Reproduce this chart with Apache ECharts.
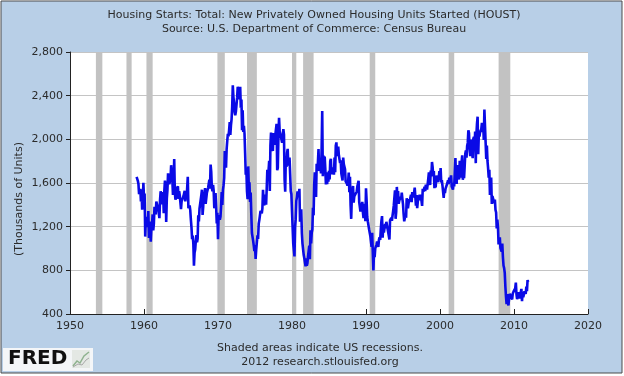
<!DOCTYPE html>
<html>
<head>
<meta charset="utf-8">
<script src="https://cdn.jsdelivr.net/npm/echarts@6/dist/echarts.min.js"></script>
<style>
  html, body { margin: 0; padding: 0; background: #ffffff; }
  #chart { width: 624px; height: 376px; }
</style>
</head>
<body>
<div id="chart"></div>
<script>
// monthly housing starts, thousands of units, starting Jan 1959
const startYear = 1959
const starts1950s = [1657, 1667, 1620, 1590, 1498, 1503, 1547, 1430, 1540, 1355, 1416, 1601]
const starts1960s = [
  1460, 1503, 1109, 1289, 1271, 1247, 1197, 1344, 1097, 1246, 1246, 1063,
  1183, 1226, 1312, 1166, 1228, 1382, 1335, 1312, 1429, 1415, 1385, 1365,
  1361, 1278, 1443, 1524, 1483, 1404, 1450, 1517, 1324, 1533, 1622, 1564,
  1244, 1456, 1534, 1689, 1641, 1588, 1614, 1639, 1763, 1779, 1622, 1491,
  1603, 1820, 1517, 1448, 1467, 1550, 1562, 1569, 1455, 1524, 1486, 1484,
  1361, 1433, 1423, 1438, 1478, 1488, 1529, 1432, 1482, 1452, 1460, 1656,
  1370, 1378, 1394, 1352, 1265, 1194, 1086, 1119, 1046, 843, 961, 990,
  1067, 1123, 1056, 1091, 1304, 1248, 1364, 1407, 1421, 1491, 1538, 1308,
  1380, 1520, 1466, 1554, 1408, 1405, 1512, 1495, 1556, 1569, 1630, 1548,
  1769, 1705, 1561, 1524, 1583, 1528, 1368, 1358, 1507, 1381, 1229, 1327
]
const starts1970s = [
  1085, 1305, 1319, 1264, 1290, 1385, 1517, 1399, 1534, 1580, 1647, 1893,
  1828, 1741, 1910, 1986, 2049, 2026, 2083, 2158, 2041, 2128, 2182, 2295,
  2494, 2390, 2334, 2249, 2221, 2254, 2252, 2382, 2481, 2485, 2421, 2366,
  2481, 2289, 2365, 2084, 2266, 2067, 2123, 2051, 1874, 1677, 1724, 1526,
  1451, 1752, 1555, 1607, 1426, 1513, 1316, 1142, 1150, 1070, 1026, 975,
  1032, 904, 993, 1005, 1121, 1087, 1226, 1260, 1264, 1344, 1360, 1321,
  1367, 1538, 1421, 1395, 1459, 1495, 1401, 1550, 1720, 1629, 1641, 1804,
  1527, 1943, 2063, 1892, 1971, 1893, 2058, 2020, 1949, 2042, 2042, 2142,
  1718, 1738, 2032, 2197, 2075, 2070, 2092, 1996, 1970, 1981, 2094, 2044,
  1630, 1520, 1847, 1748, 1876, 1913, 1760, 1778, 1832, 1681, 1524, 1498
]
const starts1980s = [
  1341, 1350, 1047, 1051, 927, 1196, 1269, 1436, 1471, 1523, 1510, 1482,
  1547, 1246, 1306, 1360, 1140, 1045, 1041, 940, 911, 873, 837, 910,
  843, 866, 931, 917, 1025, 902, 1166, 1046, 1144, 1173, 1372, 1303,
  1586, 1699, 1606, 1472, 1776, 1733, 1785, 1910, 1710, 1715, 1785, 1688,
  1897, 2260, 1663, 1851, 1774, 1843, 1732, 1586, 1698, 1590, 1689, 1612,
  1711, 1632, 1800, 1821, 1680, 1676, 1684, 1743, 1676, 1834, 1698, 1942,
  1972, 1848, 1876, 1933, 1854, 1847, 1782, 1807, 1687, 1681, 1623, 1833,
  1774, 1784, 1726, 1614, 1628, 1594, 1575, 1605, 1695, 1515, 1656, 1400,
  1271, 1473, 1532, 1573, 1421, 1478, 1467, 1493, 1492, 1522, 1569, 1563,
  1621, 1425, 1422, 1339, 1331, 1397, 1427, 1332, 1279, 1410, 1351, 1251
]
const starts1990s = [
  1551, 1437, 1289, 1248, 1212, 1177, 1171, 1115, 1110, 1014, 1145, 969,
  798, 965, 921, 1001, 996, 1036, 1063, 1049, 1015, 1079, 1103, 1079,
  1176, 1250, 1297, 1099, 1214, 1145, 1139, 1226, 1186, 1244, 1214, 1227,
  1210, 1210, 1083, 1258, 1260, 1280, 1254, 1300, 1343, 1392, 1376, 1533,
  1272, 1337, 1564, 1465, 1526, 1409, 1439, 1450, 1474, 1450, 1511, 1455,
  1407, 1316, 1249, 1267, 1314, 1281, 1461, 1416, 1369, 1369, 1452, 1431,
  1467, 1491, 1424, 1516, 1504, 1467, 1472, 1557, 1475, 1392, 1489, 1370,
  1355, 1486, 1457, 1492, 1442, 1494, 1437, 1390, 1546, 1520, 1510, 1566,
  1525, 1584, 1567, 1540, 1536, 1641, 1698, 1614, 1582, 1715, 1660, 1792,
  1748, 1670, 1710, 1553, 1611, 1559, 1669, 1648, 1635, 1608, 1648, 1708
]
const starts2000s = [
  1636, 1737, 1604, 1626, 1575, 1559, 1463, 1541, 1507, 1549, 1551, 1532,
  1600, 1625, 1590, 1649, 1605, 1636, 1670, 1567, 1562, 1540, 1602, 1568,
  1698, 1829, 1642, 1592, 1764, 1717, 1655, 1633, 1804, 1648, 1753, 1788,
  1853, 1629, 1726, 1643, 1751, 1867, 1897, 1833, 1939, 1967, 2083, 2057,
  1911, 1846, 1998, 2003, 1981, 1828, 2002, 2024, 1905, 2072, 1782, 2042,
  2144, 2207, 1864, 2061, 2025, 2068, 2054, 2095, 2151, 2065, 2147, 1994,
  2273, 2119, 1969, 1821, 1942, 1802, 1737, 1650, 1720, 1491, 1570, 1649,
  1409, 1480, 1495, 1490, 1415, 1448, 1354, 1330, 1183, 1264, 1197, 1037,
  1084, 1103, 1005, 1013, 973, 1046, 923, 844, 820, 777, 652, 560,
  490, 582, 505, 478, 540, 585, 594, 586, 585, 534, 588, 581
]
const starts2010s = [
  614, 604, 636, 687, 583, 536, 546, 599, 594, 543, 545, 539,
  630, 517, 600, 554, 561, 608, 623, 585, 650, 610, 711, 694
]

// US recessions (decimal years, peak to trough)
const recessions = [
  [1953.5, 1954.37], [1957.63, 1958.33], [1960.33, 1961.17],
  [1969.92, 1970.92], [1973.92, 1975.25], [1980.0, 1980.58],
  [1981.5, 1982.92], [1990.5, 1991.25], [2001.17, 2001.92],
  [2007.92, 2009.5]
]

const yTicks = [400, 800, 1200, 1600, 2000, 2400, 2800]
const xTicks = [1950, 1960, 1970, 1980, 1990, 2000, 2010, 2020]

const monthly = [].concat(starts1950s, starts1960s, starts1970s, starts1980s,
  starts1990s, starts2000s, starts2010s)
const seriesData = monthly.map((v, i) => [startYear + i / 12, v])

const font = 'DejaVu Sans, Verdana, sans-serif'
const textColor = '#2b2b2b'

let myChart = echarts.init(document.getElementById('chart'))
let option = {
  animation: false,
  backgroundColor: '#ffffff',
  graphic: [
    {
      type: 'rect', z: -10, silent: true,
      shape: { x: 1, y: 1, width: 621, height: 372 },
      style: { fill: '#b8cfe7', stroke: '#4a4a4a', lineWidth: 1 }
    },
    {
      type: 'text', x: 314, y: 8,
      style: {
        text: 'Housing Starts: Total: New Privately Owned Housing Units Started (HOUST)\nSource: U.S. Department of Commerce: Census Bureau',
        fontFamily: font, fontSize: 11, lineHeight: 14, fill: textColor, align: 'center'
      }
    },
    {
      type: 'text', x: 320, y: 341,
      style: {
        text: 'Shaded areas indicate US recessions.\n2012 research.stlouisfed.org',
        fontFamily: font, fontSize: 11, lineHeight: 14, fill: textColor, align: 'center'
      }
    },
    {
      type: 'text', x: 19, y: 199, rotation: Math.PI / 2, originX: 0, originY: 0,
      style: {
        text: '(Thousands of Units)',
        fontFamily: font, fontSize: 11, fill: textColor,
        align: 'center', verticalAlign: 'middle'
      }
    },
    // FRED logo
    {
      type: 'rect', silent: true,
      shape: { x: 3, y: 348, width: 90, height: 23 },
      style: { fill: '#f4f6f8' }
    },
    {
      type: 'text', x: 8, y: 359,
      style: {
        text: 'FRED', fontFamily: 'DejaVu Sans', fontWeight: 'bold', fontSize: 20,
        fill: '#111', verticalAlign: 'middle'
      }
    },
    {
      type: 'rect', silent: true,
      shape: { x: 72, y: 350, width: 18, height: 18 },
      style: { fill: '#e4e8e4' }
    },
    {
      type: 'polyline', silent: true,
      shape: { points: [[73, 366], [77, 361], [80, 363], [84, 356], [89, 352]] },
      style: { stroke: '#8fb28f', lineWidth: 1.5, fill: null }
    },
    {
      type: 'polyline', silent: true,
      shape: { points: [[73, 367], [78, 364], [82, 365], [86, 360], [89, 358]] },
      style: { stroke: '#a8a8a8', lineWidth: 1, fill: null }
    }
  ],
  grid: {
    left: 70,
    right: 36,
    top: 52,
    bottom: 62,
    containLabel: false,
    show: true,
    backgroundColor: '#ffffff',
    borderWidth: 0
  },
  xAxis: {
    type: 'value',
    min: xTicks[0],
    max: xTicks[xTicks.length - 1],
    interval: 10,
    axisLine: { show: true, lineStyle: { color: '#222', width: 1 } },
    axisTick: { show: true, inside: true, length: 5, lineStyle: { color: '#222' } },
    axisLabel: {
      margin: 7, color: textColor, fontFamily: font, fontSize: 11,
      formatter: v => String(v)
    },
    splitLine: { show: false }
  },
  yAxis: {
    type: 'value',
    min: yTicks[0],
    max: yTicks[yTicks.length - 1],
    interval: 400,
    axisLine: { show: true, lineStyle: { color: '#222', width: 1 } },
    axisTick: { show: true, length: 4, lineStyle: { color: '#222' } },
    axisLabel: {
      margin: 7, color: textColor, fontFamily: font, fontSize: 11,
      formatter: v => v.toLocaleString('en-US')
    },
    splitLine: { show: true, lineStyle: { color: '#c4c4c4', width: 1 } }
  },
  series: [
    {
      name: 'HOUST',
      type: 'line',
      data: seriesData,
      showSymbol: false,
      lineStyle: { color: '#0a0ae6', width: 2.6 },
      markArea: {
        silent: true,
        itemStyle: { color: '#c2c2c2', opacity: 1 },
        data: recessions.map(r => [{ xAxis: r[0] }, { xAxis: r[1] }])
      }
    }
  ]
}

option && myChart.setOption(option)
</script>
</body>
</html>
